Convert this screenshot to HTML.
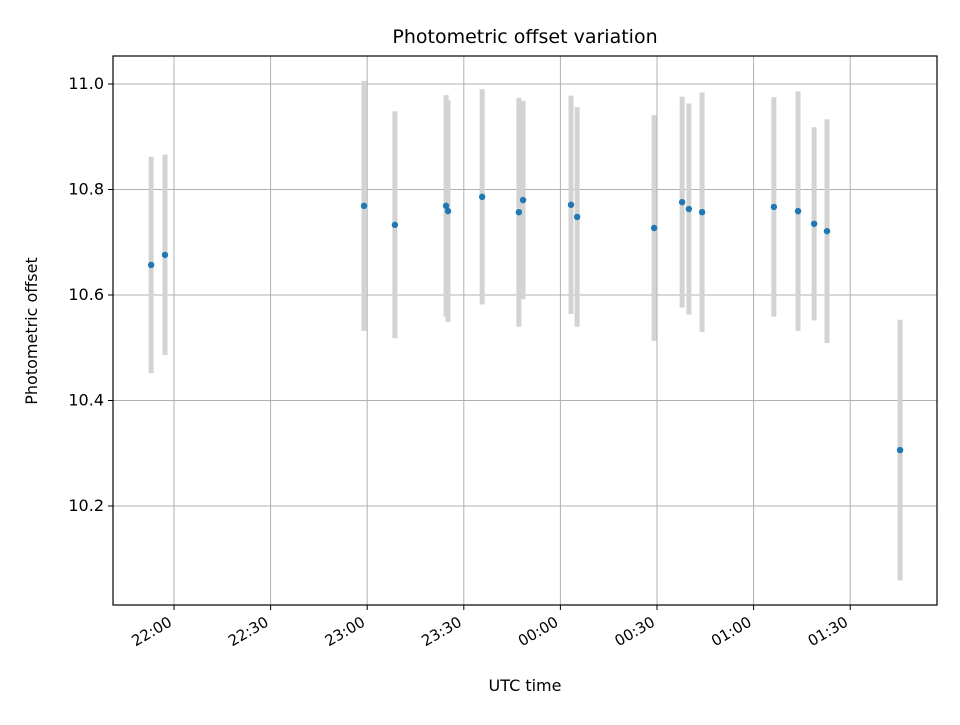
<!DOCTYPE html>
<html><head><meta charset="utf-8"><style>
body{margin:0;background:#fff;font-family:"Liberation Sans","DejaVu Sans",sans-serif}
</style></head><body>
<svg id="chart" width="960" height="720" xmlns="http://www.w3.org/2000/svg" font-family="DejaVu Sans, Liberation Sans, sans-serif">
<rect width="960" height="720" fill="#fff"/>
<g id="grid"></g><g id="bars"></g><g id="pts"></g><g id="axes"></g>
</svg>
<script>
const minutesFrom2200=[-7.1,-2.8,59.0,68.6,84.5,85.1,95.7,107.1,108.4,123.3,125.2,149.1,157.8,159.9,164.0,186.3,193.8,198.8,202.8,225.5];
const offsets=[10.657,10.676,10.769,10.733,10.769,10.759,10.786,10.757,10.780,10.771,10.748,10.727,10.776,10.763,10.757,10.767,10.759,10.735,10.721,10.306];
const errors=[0.205,0.19,0.237,0.215,0.21,0.21,0.204,0.217,0.188,0.207,0.208,0.214,0.2,0.2,0.227,0.208,0.227,0.183,0.212,0.247];
const yTicks=[10.2,10.4,10.6,10.8,11.0];
const xTickMinutes=[0,30,60,90,120,150,180,210];
const xTickLabels=["22:00","22:30","23:00","23:30","00:00","00:30","01:00","01:30"];
const NS="http://www.w3.org/2000/svg";
const L=113,R=937,T=56,B=605;
const xs=m=>174+m*(96.6/30);
const ys=v=>84+(11-v)*(105.5/0.2);
function mk(p,tag,a){const e=document.createElementNS(NS,tag);for(const k in a)e.setAttribute(k,a[k]);document.getElementById(p).appendChild(e);return e;}
yTicks.forEach((v,i)=>{const y=ys(v);
 const g=mk('grid','line',{x1:L,x2:R,y1:y,y2:y,stroke:'#b0b0b0','stroke-width':1});
 
 
 mk('axes','line',{x1:L-5,x2:L,y1:y,y2:y,stroke:'#000'});
 const t=mk('axes','text',{x:L-9,y:y+5,'text-anchor':'end','font-size':16});
 t.textContent=v.toFixed(1);
 
 
});
xTickMinutes.forEach((m,i)=>{const x=xs(m);
 const g=mk('grid','line',{x1:x,x2:x,y1:T,y2:B,stroke:'#b0b0b0','stroke-width':1});
 
 
 mk('axes','line',{x1:x,x2:x,y1:B,y2:B+5,stroke:'#000'});
 const ax=x-1, ay=B+20;
 const t=mk('axes','text',{x:ax,y:ay,'text-anchor':'end','font-size':15,transform:`rotate(-30 ${ax} ${ay})`});
 t.textContent=xTickLabels[i];
 
 
});
minutesFrom2200.forEach((m,i)=>{const x=xs(m);
 const b=mk('bars','line',{x1:x,x2:x,y1:ys(offsets[i]+errors[i]),y2:ys(offsets[i]-errors[i]),stroke:'#d3d3d3','stroke-width':5});
 
 
 const c=mk('pts','circle',{cx:x,cy:ys(offsets[i]),r:3.2,fill:'#1f77b4'});
 
 
});
const fr=mk('axes','rect',{x:L,y:T,width:R-L,height:B-T,fill:'none',stroke:'#000','stroke-width':1.2});


const ti=mk('axes','text',{x:525,y:43,'text-anchor':'middle','font-size':19});
ti.textContent='Photometric offset variation';


const xl=mk('axes','text',{x:525,y:691,'text-anchor':'middle','font-size':16});
xl.textContent='UTC time';


const yl=mk('axes','text',{x:37,y:331,'text-anchor':'middle','font-size':16,transform:'rotate(-90 37 331)'});
yl.textContent='Photometric offset';


</script>
</body></html>
